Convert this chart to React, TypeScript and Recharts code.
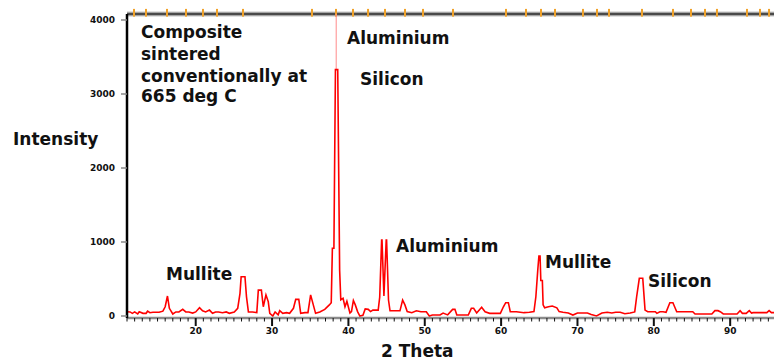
import React from "react";
import { LineChart, Line, XAxis, YAxis, ReferenceLine } from "recharts";

// Diffraction angle (2θ, degrees) of each sampled point
const theta = [
  11.0, 11.4, 11.7, 12.0, 12.4, 12.6, 13.1, 13.5, 13.7, 14.0, 14.4, 15.2, 15.7, 16.0, 16.3, 16.55,
  17.0, 17.4, 17.8, 18.3, 18.7, 19.1, 19.6, 20.0, 20.5, 20.9, 21.3, 21.8, 22.2, 22.6, 23.0, 23.5,
  24.0, 24.4, 25.05, 25.5, 25.8, 25.95, 26.45, 26.65, 26.9, 27.45, 28.0, 28.2, 28.6, 28.85, 29.2,
  29.5, 29.7, 30.1, 30.4, 30.8, 31.0, 31.4, 31.9, 32.3, 32.8, 33.1, 33.5, 33.75, 34.3, 34.7, 35.05,
  35.4, 35.7, 36.25, 36.9, 37.5, 37.75, 37.9, 38.1, 38.3, 38.35, 38.45, 38.55, 38.6, 38.85, 39.0,
  39.3, 39.55, 39.8, 40.2, 40.4, 40.65, 40.9, 41.2, 41.5, 41.9, 42.2, 42.6, 42.9, 43.2, 43.9, 44.1,
  44.35, 44.4, 44.65, 44.95, 45.0, 45.25, 45.45, 46.0, 46.75, 47.1, 47.4, 47.7, 48.3, 48.9, 49.5,
  50.2, 50.6, 51.0, 52.0, 52.4, 53.0, 53.65, 53.95, 54.2, 55.0, 55.7, 56.1, 56.4, 56.8, 57.45, 57.9,
  58.5, 59.9, 60.3, 60.6, 60.95, 61.2, 62.0, 63.0, 63.7, 64.3, 64.55, 64.8, 64.95, 65.1, 65.2, 65.4,
  65.5, 65.7, 66.2, 66.7, 67.3, 67.6, 68.1, 68.8, 69.4, 70.0, 70.6, 71.3, 71.8, 72.5, 73.2, 73.9,
  74.5, 75.0, 75.6, 76.2, 76.9, 77.5, 77.75, 78.1, 78.55, 78.85, 79.2, 80.2, 80.4, 80.8, 81.2, 81.6,
  82.1, 82.5, 83.0, 83.8, 85.1, 85.4, 87.6, 88.0, 88.4, 88.7, 89.1, 90.9, 91.3, 91.6, 92.1, 92.5,
  92.8, 93.0, 94.8, 95.1, 95.4, 95.74,
];

// Measured intensity (counts) at each angle above
const intensity = [
  58, 55, 36, 55, 27, 58, 36, 36, 65, 45, 50, 50, 65, 125, 270, 104,
  27, 55, 55, 90, 55, 55, 40, 55, 112, 70, 55, 80, 36, 55, 55, 45,
  55, 36, 55, 104, 306, 530, 530, 260, 55, 55, 45, 350, 350, 125, 285,
  195, 36, 0, 55, 15, 72, 36, 45, 36, 104, 225, 225, 36, 45, 45, 285,
  150, 36, 55, 90, 150, 180, 915, 915, 3330, 3330, 3330, 3330, 3330, 620, 220,
  240, 125, 200, 40, 60, 210, 150, 60, 0, 10, 95, 90, 60, 80, 80, 257,
  1025, 1025, 270, 1025, 1025, 216, 70, 70, 70, 216, 150, 60, 45, 70, 58,
  58, 0, 13, 13, 40, 15, 90, 90, 13, 13, 13, 104, 104, 40, 117, 58,
  36, 36, 125, 180, 180, 58, 58, 45, 50, 60, 260, 620, 810, 810, 480, 480,
  150, 110, 125, 135, 110, 60, 50, 40, 13, 40, 40, 40, 20, 0, 40, 50,
  40, 50, 50, 30, 40, 55, 260, 510, 510, 80, 58, 58, 36, 58, 58, 50,
  180, 180, 58, 58, 58, 27, 27, 72, 72, 58, 27, 27, 72, 36, 36, 72,
  40, 45, 45, 72, 45, 45,
];

// Reference-pattern stick positions marked along the top frame (2θ)
const refSticks = [
  11.92, 13.49, 16.24, 18.73, 20.95, 22.79, 26.19, 35.23, 38.37, 40.6, 42.57, 44.79, 47.41,
  49.77, 53.7, 60.64, 63.26, 65.22, 67.06, 70.72, 72.56, 74.13, 78.45, 82.51, 84.87, 86.7,
  88.27, 92.2, 93.91, 95.09,
];

const yTicks = [0, 1000, 2000, 3000, 4000];
const xTicks = Array.from({ length: 85 }, (_, i) => 11 + i);
const xLabelled = [20, 30, 40, 50, 60, 70, 80, 90];

const mainPeakTop = 3330;
const mainPeakAngle = 38.4;

const X_DOMAIN: [number, number] = [11, 95.74];
const Y_DOMAIN: [number, number] = [-27, 4081];

const data = theta.map((t, i) => ({ t, v: intensity[i] }));

const FONT = "'DejaVu Sans', sans-serif";

const notes = [
  { text: "Composite", x: 141, y: 37.5 },
  { text: "sintered", x: 141, y: 59.5 },
  { text: "conventionally at", x: 141, y: 81.5 },
  { text: "665 deg C", x: 141, y: 102 },
  { text: "Aluminium", x: 347, y: 43.5 },
  { text: "Silicon", x: 360, y: 85 },
  { text: "Aluminium", x: 396, y: 251.5 },
  { text: "Mullite", x: 166, y: 280 },
  { text: "Mullite", x: 545, y: 267.5 },
  { text: "Silicon", x: 648, y: 286.5 },
  { text: "Intensity", x: 13, y: 145 },
  { text: "2 Theta", x: 381, y: 356.5 },
];

const XTick = (props: any) => {
  const { x, y, payload } = props;
  const v = payload.value;
  const major = xLabelled.includes(v);
  return (
    <g>
      <line
        x1={x}
        x2={x}
        y1={y}
        y2={y + (major ? 8 : 3.5)}
        stroke="#111"
        strokeWidth={major ? 2 : 1}
      />
      {major && (
        <text
          x={x}
          y={y + 16}
          textAnchor="middle"
          fontFamily={FONT}
          fontWeight={700}
          fontSize={9}
          fill="#111"
        >
          {v}
        </text>
      )}
    </g>
  );
};

export default function App() {
  return (
    <div
      style={{
        position: "absolute",
        left: 0,
        top: 0,
        width: 774,
        height: 361,
        background: "#fff",
        overflow: "hidden",
      }}
    >
      <LineChart
        width={774}
        height={361}
        data={data}
        margin={{ top: 14, right: 0, left: 0, bottom: 0 }}
      >
        <XAxis
          dataKey="t"
          type="number"
          domain={X_DOMAIN}
          allowDataOverflow
          ticks={xTicks}
          interval={0}
          tick={<XTick />}
          tickLine={false}
          tickSize={0}
          tickMargin={0}
          height={43}
          axisLine={{ stroke: "#8a8a8a", strokeWidth: 2.5 }}
        />
        <YAxis
          type="number"
          domain={Y_DOMAIN}
          allowDataOverflow
          ticks={yTicks}
          interval={0}
          width={127}
          tickSize={6}
          tickMargin={6}
          tickLine={{ stroke: "#888", strokeWidth: 1.5 }}
          axisLine={{ stroke: "#000", strokeWidth: 2.5 }}
          tick={{ fontFamily: FONT, fontWeight: 700, fontSize: 9, fill: "#111" }}
        />
        <ReferenceLine y={Y_DOMAIN[1]} stroke="#c4c4c4" strokeWidth={5} ifOverflow="visible" />
        <ReferenceLine y={Y_DOMAIN[1]} stroke="#4a4a4a" strokeWidth={2.5} ifOverflow="visible" />
        {refSticks.map((t) => (
          <ReferenceLine
            key={t}
            segment={[
              { x: t, y: 4045 },
              { x: t, y: 4150 },
            ]}
            stroke="#f0a22a"
            strokeWidth={2}
            ifOverflow="visible"
          />
        ))}
        <ReferenceLine
          segment={[
            { x: mainPeakAngle, y: mainPeakTop },
            { x: mainPeakAngle, y: Y_DOMAIN[1] },
          ]}
          stroke="#ff8a8a"
          strokeWidth={1}
          ifOverflow="visible"
        />
        <Line
          type="linear"
          dataKey="v"
          stroke="#ff0000"
          strokeWidth={1.6}
          dot={false}
          activeDot={false}
          isAnimationActive={false}
        />
      </LineChart>
      <svg
        width={774}
        height={361}
        style={{ position: "absolute", left: 0, top: 0, pointerEvents: "none" }}
      >
        {notes.map((n, i) => (
          <text
            key={i}
            x={n.x}
            y={n.y}
            fontFamily={FONT}
            fontWeight={700}
            fontSize={17}
            fill="#111"
          >
            {n.text}
          </text>
        ))}
      </svg>
    </div>
  );
}
